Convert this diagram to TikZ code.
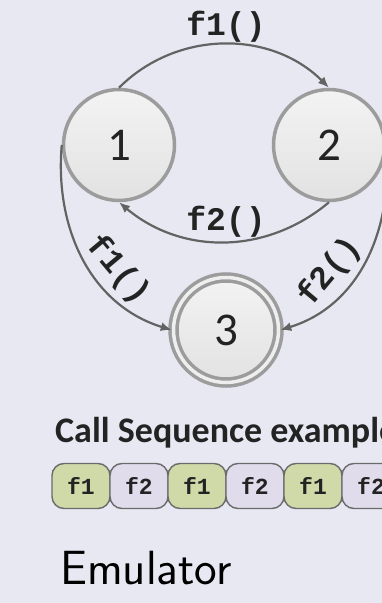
\documentclass[tikz,border=0pt]{standalone}
\usepackage{fontspec}
\setmainfont{Carlito}
\newfontfamily\codefont{Liberation Mono}
\usetikzlibrary{arrows.meta,shadings}

\definecolor{bgcol}{HTML}{E8E8F3}
\definecolor{stateTop}{HTML}{F3F3F3}
\definecolor{stateBot}{HTML}{E2E2E2}
\definecolor{ringgray}{HTML}{9C9C9C}
\definecolor{ringgap}{HTML}{EEEEEE}
\definecolor{edgegray}{HTML}{636363}
\definecolor{ink}{HTML}{232323}
\definecolor{boxgray}{HTML}{6B6B6B}
\definecolor{callA}{HTML}{CFDAA8}
\definecolor{callB}{HTML}{E0DCEC}

\begin{document}
\begin{tikzpicture}[x=1pt,y=1pt,
  state/.style={circle, draw=ringgray, line width=3.5pt, shading=axis,
    top color=stateTop, bottom color=stateBot, minimum size=111pt,
    inner sep=0pt, text=ink, font=\fontsize{47}{47}\selectfont},
  accept/.style={state, double=ringgap, double distance=3.5pt, minimum size=105pt},
  trans/.style={draw=edgegray, line width=2.2pt, -{Latex[length=11pt,width=9pt]}},
  tlabel/.style={inner sep=0pt, text=ink, font=\codefont\bfseries\fontsize{33}{33}\selectfont},
  callbox/.style={draw=boxgray, line width=1.4pt, rounded corners=12pt,
    minimum width=58pt, minimum height=45pt, inner sep=0pt, text=ink,
    font=\codefont\bfseries\fontsize{23}{23}\selectfont},
  callf1/.style={callbox, fill=callA},
  callf2/.style={callbox, fill=callB},
]
\useasboundingbox (0,0) rectangle (382,603);
\fill[bgcol] (0,0) rectangle (382,603);
\clip (0,0) rectangle (382,603);

% states
\node[state]  (n1) at (119,458) {1};
\node[state]  (n2) at (329,458) {2};
\node[accept] (n3) at (226,273) {3};

% transitions
\draw[trans] (n1.north) to[out=45,in=135] (n2.north);
\draw[trans] (n2.south) to[out=-140,in=-40] (n1.south);
\draw[trans] (n1.west) to[out=265,in=163] (n3.west);
\draw[trans] (n2.east) to[out=-85,in=17] (n3.east);

% transition labels
\node[tlabel] (l12) at (226,576) {f1()};
\node[tlabel] (l21) at (226,381) {f2()};
\node[tlabel, rotate=-50] (l13) at (118,333) {f1()};
\node[tlabel, rotate=50]  (l23) at (330,331) {f2()};

% call sequence
\node[anchor=base west, inner sep=0pt, text=ink,
      font=\bfseries\fontsize{36}{36}\selectfont] (title) at (55,160) {Call Sequence example};
\node[callf1] (c1) at (81,117)  {f1};
\node[callf2] (c2) at (139,117) {f2};
\node[callf1] (c3) at (197,117) {f1};
\node[callf2] (c4) at (255,117) {f2};
\node[callf1] (c5) at (313,117) {f1};
\node[callf2] (c6) at (371,117) {f2};

\node[anchor=base west, inner sep=0pt, text=black,
      font=\sffamily\fontsize{48}{48}\selectfont] (emu) at (60,18) {Emulator};
\end{tikzpicture}
\end{document}
